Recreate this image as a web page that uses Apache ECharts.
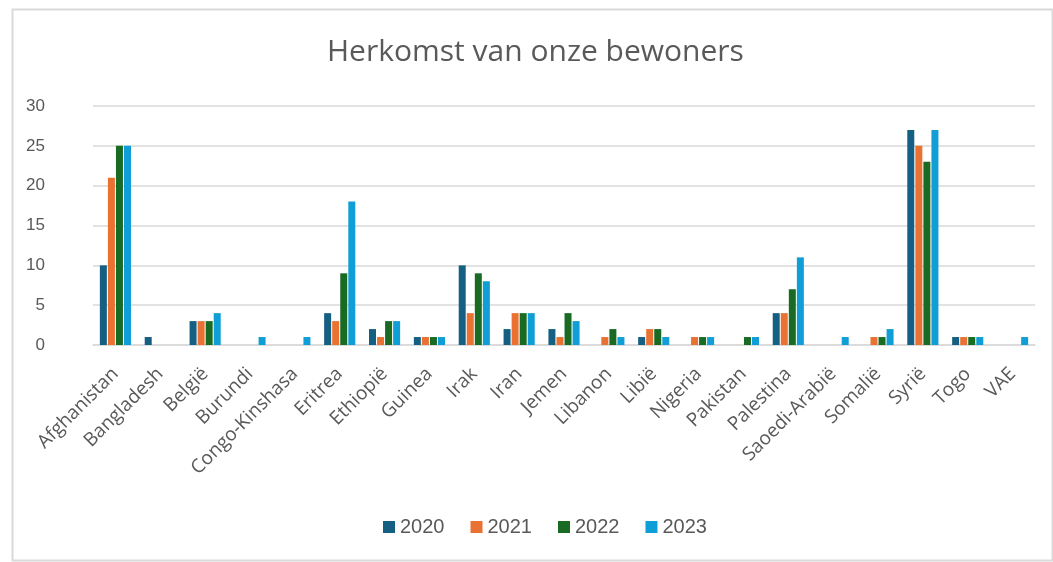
<!DOCTYPE html>
<html>
<head>
<meta charset="utf-8">
<script src="https://cdn.jsdelivr.net/npm/echarts@6/dist/echarts.min.js"></script>
<style>html,body{margin:0;padding:0;background:#fff;}#c{width:1053px;height:562px;}</style>
</head>
<body>
<div id="c"></div>
<script>
const categories = ["Afghanistan","Bangladesh","België","Burundi","Congo-Kinshasa","Eritrea","Ethiopië","Guinea","Irak","Iran","Jemen","Libanon","Libië","Nigeria","Pakistan","Palestina","Saoedi-Arabië","Somalië","Syrië","Togo","VAE"];
const years = ["2020","2021","2022","2023"];
const v2020 = [10,1,3,0,0,4,2,1,10,2,2,0,1,0,0,4,0,0,27,1,0];
const v2021 = [21,0,3,0,0,3,1,1,4,4,1,1,2,1,0,4,0,1,25,1,0];
const v2022 = [25,0,3,0,0,9,3,1,9,4,4,2,2,1,1,7,0,1,23,1,0];
const v2023 = [25,0,4,1,1,18,3,1,8,4,3,1,1,1,1,11,1,2,27,1,1];
const yTicks = [0,5,10,15,20,25,30];

const colors = ["#156082","#e97132","#196b24","#0f9ed5"];
const seriesData = [v2020, v2021, v2022, v2023];

const chart = echarts.init(document.getElementById('c'));
chart.setOption({
  animation: false,
  color: colors,
  title: {
    text: "Herkomst van onze bewoners",
    left: 322,
    top: 32,
    textStyle: {color: '#595959', fontSize: 30, fontWeight: 'normal', fontFamily: 'Open Sans'}
  },
  graphic: [{
    type: 'rect', left: 10, top: 7, shape: {width: 1040, height: 551},
    style: {fill: 'none', stroke: '#d9d9d9', lineWidth: 2}, silent: true
  }],
  legend: {
    data: years,
    bottom: 20,
    left: 378,
    itemWidth: 12, itemHeight: 12, itemGap: 26,
    icon: 'rect',
    textStyle: {color: '#595959', fontSize: 20, fontFamily: 'Liberation Sans'}
  },
  grid: {left: 93, right: 18, top: 106, bottom: 217},
  xAxis: {
    type: 'category',
    data: categories,
    axisLine: {lineStyle: {color: '#d9d9d9', width: 1.5}},
    axisTick: {show: false},
    axisLabel: {rotate: 45, color: '#595959', fontSize: 19, fontFamily: 'Open Sans', margin: 26, interval: 0}
  },
  yAxis: {
    type: 'value',
    min: yTicks[0], max: yTicks[yTicks.length-1], interval: 5,
    axisLine: {show: false},
    axisTick: {show: false},
    splitLine: {lineStyle: {color: '#d9d9d9', width: 1.5}},
    axisLabel: {color: '#595959', fontSize: 17, fontFamily: 'Liberation Sans', margin: 48}
  },
  series: years.map((y, i) => ({
    name: y,
    type: 'bar',
    data: seriesData[i],
    barWidth: 7,
    barGap: '15%',
    barCategoryGap: '30%'
  }))
});
</script>
</body>
</html>
